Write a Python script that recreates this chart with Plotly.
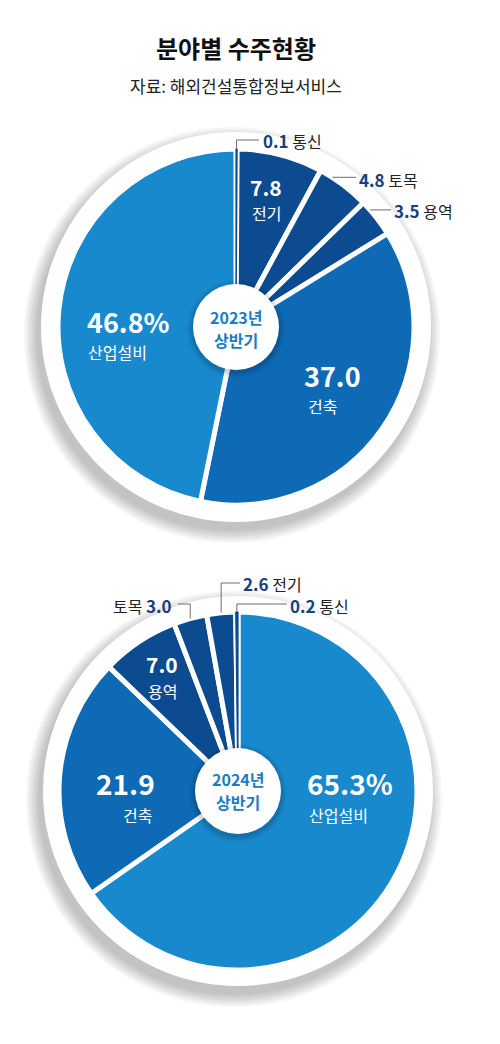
"""분야별 수주현황 - two pies (2023 / 2024 상반기)."""
import math

import plotly.graph_objects as go

W, H = 500, 1044

# data
sectors_2023 = ["통신", "전기", "토목", "용역", "건축", "산업설비"]
shares_2023 = [0.1, 7.8, 4.8, 3.5, 37.0, 46.8]
sectors_2024 = ["산업설비", "건축", "용역", "토목", "전기", "통신"]
shares_2024 = [65.3, 21.9, 7.0, 3.0, 2.6, 0.2]

NAVY = "#0c4b90"
MID = "#0f6ab6"
LIGHT = "#1889cc"
LABEL_NAVY = "#17407c"
CENTER_BLUE = "#1b7cc4"
SECTOR_COLORS = {"통신": NAVY, "전기": NAVY, "토목": NAVY, "용역": NAVY,
                 "건축": MID, "산업설비": LIGHT}

KR = "Noto Sans CJK KR"

# pie geometry in page pixels
TOP = dict(cx=236, cy=327, r=178)
BOT = dict(cx=238, cy=791, r=179)


def px(x, y):
    return x / W, 1 - y / H


def domain(g):
    return dict(x=[(g["cx"] - g["r"]) / W, (g["cx"] + g["r"]) / W],
                y=[1 - (g["cy"] + g["r"]) / H, 1 - (g["cy"] - g["r"]) / H])


def slice_point(values, idx, g, frac=0.5, rad=None):
    """Point on the rim of slice idx (clockwise from 12 o'clock)."""
    rad = g["r"] if rad is None else rad
    cum = sum(values[:idx]) + values[idx] * frac
    th = cum / sum(values) * 2 * math.pi
    return g["cx"] + rad * math.sin(th), g["cy"] - rad * math.cos(th)


fig = go.Figure()
shapes = []
annotations = []


def circle(cx, cy, r, color, layer):
    ax, ay = px(cx, cy)
    shapes.append(dict(type="circle", layer=layer, xref="paper", yref="paper",
                       xsizemode="pixel", ysizemode="pixel", xanchor=ax, yanchor=ay,
                       x0=-r, x1=r, y0=-r, y1=r, fillcolor=color, line_width=0))


def add_pie(labels, values, g):
    colors = [SECTOR_COLORS[s] for s in labels]
    fig.add_trace(go.Pie(
        labels=labels, values=values, sort=False, direction="clockwise",
        rotation=0, domain=domain(g), textinfo="none", hoverinfo="label+value",
        marker=dict(colors=colors, line=dict(color="white", width=5)),
        showlegend=False,
    ))
    # thin overlay so the tiny 통신 slice stays visible between the gaps
    fig.add_trace(go.Pie(
        labels=labels, values=values, sort=False, direction="clockwise",
        rotation=0, domain=domain(g), textinfo="none", hoverinfo="skip",
        marker=dict(colors=[NAVY if s == "통신" else "rgba(0,0,0,0)" for s in labels],
                    line=dict(color=[NAVY if s == "통신" else "rgba(0,0,0,0)" for s in labels],
                              width=[1.2 if s == "통신" else 0 for s in labels])),
        showlegend=False,
    ))
    # soft drop shadow + white rim behind the pie
    for k in range(7):
        circle(g["cx"] - 4, g["cy"] + 8, 208 - 2 * k, "rgba(0,0,0,0.035)", "below")
    circle(g["cx"], g["cy"], 195, "white", "below")
    # center badge
    for rr, a in [(49, 0.04), (47, 0.06), (45, 0.08)]:
        circle(g["cx"], g["cy"] + 2, rr, f"rgba(0,0,0,{a})", "above")
    circle(g["cx"], g["cy"], 43, "white", "above")


def leader(points):
    d = ""
    for i, (x, y) in enumerate(points):
        a, b = px(x, y)
        d += ("M" if i == 0 else "L") + f"{a:.5f},{b:.5f}"
    shapes.append(dict(type="path", path=d, xref="paper", yref="paper",
                       line=dict(color="#6e6e6e", width=1), layer="above"))


def text(x, y, s, size, color, anchor="center", bold=False):
    a, b = px(x, y)
    annotations.append(dict(
        x=a, y=b, xref="paper", yref="paper", showarrow=False,
        text=f"<b>{s}</b>" if bold else s, xanchor=anchor, yanchor="middle",
        font=dict(family=KR, size=size, color=color)))


def outside(x, y, value, name, anchor="left", name_first=False):
    v = f"<span style='color:{LABEL_NAVY}; font-size:17px'><b>{value}</b></span>"
    s = f"{name} {v}" if name_first else f"{v} {name}"
    text(x, y, s, 16, "#222222", anchor=anchor)


add_pie(sectors_2023, shares_2023, TOP)
add_pie(sectors_2024, shares_2024, BOT)

# title
text(236, 48, "분야별 수주현황", 24, "#111111", bold=True)
text(236, 85, "자료: 해외건설통합정보서비스", 17, "#222222")

# ---- 2023 labels
v23 = dict(zip(sectors_2023, shares_2023))
x0, y0 = slice_point(shares_2023, 0, TOP)
leader([(x0, y0), (x0, 140), (259, 140)])
outside(261, 140, f"{v23['통신']:.1f}", "통신")
x0, y0 = slice_point(shares_2023, 2, TOP, frac=0.25)
leader([(x0, y0), (356, y0)])
outside(357, y0 + 2, f"{v23['토목']:.1f}", "토목")
x0, y0 = slice_point(shares_2023, 3, TOP, frac=0.25)
leader([(x0, y0), (391, y0)])
outside(392, y0 + 1, f"{v23['용역']:.1f}", "용역")

text(266, 187, f"{v23['전기']:.1f}", 21, "white", bold=True)
text(266, 213, "전기", 16, "white")
text(332, 375, f"{v23['건축']:.1f}", 27, "white", bold=True)
text(322, 406, "건축", 16, "white")
text(128, 321, f"{v23['산업설비']:.1f}%", 27, "white", bold=True)
text(117, 352, "산업설비", 16, "white")
text(236, 317, "2023년", 16, CENTER_BLUE, bold=True)
text(236, 340, "상반기", 16, CENTER_BLUE, bold=True)

# ---- 2024 labels
v24 = dict(zip(sectors_2024, shares_2024))
x0, y0 = slice_point(shares_2024, 4, BOT)
leader([(x0, y0), (x0, 583), (240, 583)])
outside(241, 583, f"{v24['전기']:.1f}", "전기")
x0, y0 = slice_point(shares_2024, 5, BOT)
leader([(x0, y0), (x0, 604), (287, 604)])
outside(288, 605, f"{v24['통신']:.1f}", "통신")
x0, y0 = slice_point(shares_2024, 3, BOT)
leader([(x0, y0), (x0, 604), (178, 604)])
outside(174, 605, f"{v24['토목']:.1f}", "토목", anchor="right", name_first=True)

text(162, 664, f"{v24['용역']:.1f}", 21, "white", bold=True)
text(162, 691, "용역", 16, "white")
text(125, 783, f"{v24['건축']:.1f}", 28, "white", bold=True)
text(137, 815, "건축", 16, "white")
text(350, 783, f"{v24['산업설비']:.1f}%", 28, "white", bold=True)
text(338, 815, "산업설비", 16, "white")
text(238, 779, "2024년", 16, CENTER_BLUE, bold=True)
text(238, 802, "상반기", 16, CENTER_BLUE, bold=True)

fig.update_layout(
    width=W, height=H,
    margin=dict(l=0, r=0, t=0, b=0),
    paper_bgcolor="white", plot_bgcolor="white",
    shapes=shapes, annotations=annotations,
    font=dict(family=KR),
)

# drop the default 8px body margin so page pixels match figure pixels
fig.write_html("out.html", config={"displayModeBar": False},
               post_script="document.body.style.margin='0';")
